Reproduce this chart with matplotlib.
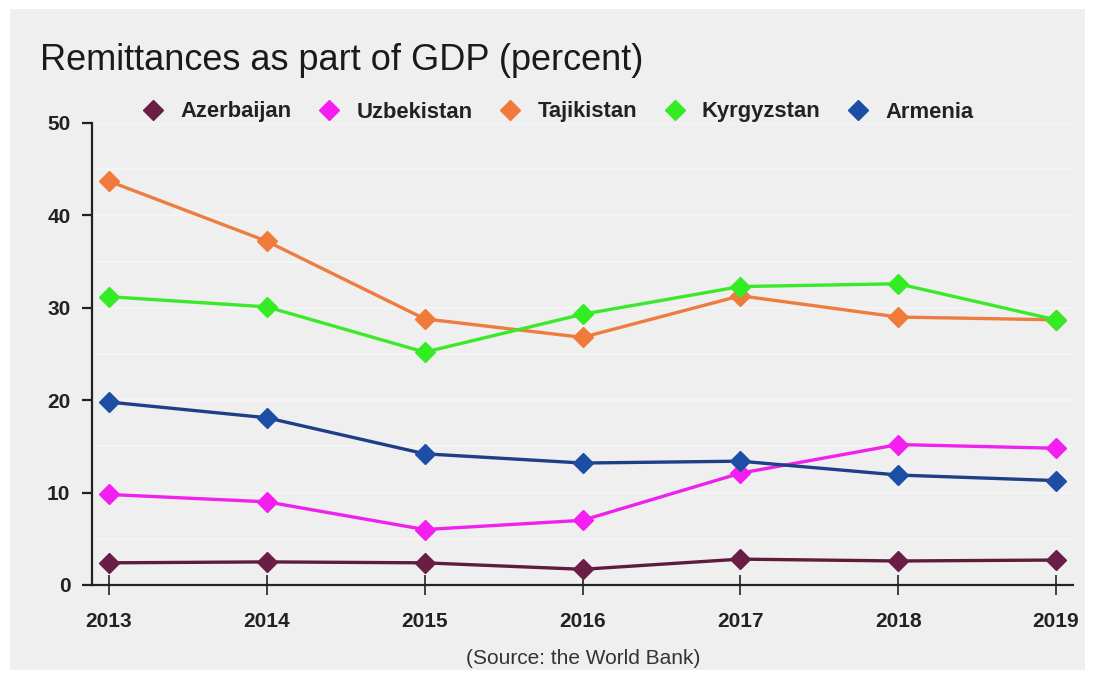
"""
Remittances as part of GDP (percent), 2013-2019.
"""
import matplotlib
import matplotlib.pyplot as plt
from matplotlib.lines import Line2D
from matplotlib.patches import Rectangle

matplotlib.use('agg')

years = [2013, 2014, 2015, 2016, 2017, 2018, 2019]
countries = ['Azerbaijan', 'Uzbekistan', 'Tajikistan', 'Kyrgyzstan', 'Armenia']
azerbaijan = [2.4, 2.5, 2.4, 1.7, 2.8, 2.6, 2.7]
uzbekistan = [9.8, 9.0, 6.0, 7.0, 12.1, 15.2, 14.8]
tajikistan = [43.7, 37.2, 28.8, 26.8, 31.3, 29.0, 28.7]
kyrgyzstan = [31.2, 30.1, 25.2, 29.3, 32.3, 32.6, 28.7]
armenia = [19.8, 18.1, 14.2, 13.2, 13.4, 11.9, 11.3]
yticks = [0, 10, 20, 30, 40, 50]

series = [azerbaijan, uzbekistan, tajikistan, kyrgyzstan, armenia]
marker_colors = ['#6a1d45', '#f51ef0', '#ef7a3a', '#34ec24', '#1d4ea6']
line_colors = ['#5e1c3c', '#ee22ec', '#ec7c40', '#3aea2a', '#1e3f86']

plt.rcParams['font.family'] = ['Liberation Sans', 'DejaVu Sans']
bg = '#efefef'

fig = plt.figure(figsize=(10.95, 6.79), dpi=100, facecolor='white')
fig.patches.append(Rectangle((10 / 1095, 9 / 679), 1075 / 1095, 661 / 679,
                             transform=fig.transFigure, facecolor=bg,
                             edgecolor='none', zorder=-10))
ax = fig.add_axes([92 / 1095, 94 / 679, 981 / 1095, 462 / 679])
ax.set_facecolor(bg)

for vals, mc, lc in zip(series, marker_colors, line_colors):
    ax.plot(years, vals, color=lc, linewidth=2.4, marker='D',
            markersize=10.5, markerfacecolor=mc, markeredgecolor=mc,
            zorder=3)

ax.set_xlim(2012.892, 2019.108)
ax.set_ylim(0, 50)
ax.set_xticks(years)
ax.set_xticklabels([str(y) for y in years])
ax.set_yticks(yticks)
ax.set_yticks([5, 15, 25, 35, 45], minor=True)
ax.grid(axis='y', which='both', color='#f6f6f6', linewidth=1.2, zorder=0)
ax.tick_params(axis='y', which='minor', length=0)

for side in ('top', 'right'):
    ax.spines[side].set_visible(False)
for side in ('left', 'bottom'):
    ax.spines[side].set_color('#222222')
    ax.spines[side].set_linewidth(1.6)

ax.tick_params(axis='y', which='major', direction='out', length=7.5,
               width=1.6, color='#222222', pad=8)
ax.tick_params(axis='x', direction='inout', length=15, width=1.2,
               color='#222222', pad=12)
for lbl in ax.get_xticklabels() + ax.get_yticklabels():
    lbl.set_fontweight('bold')
    lbl.set_fontsize(15)
    lbl.set_color('#222222')

fig.text(40 / 1095, 1 - 60 / 679, 'Remittances as part of GDP (percent)',
         fontsize=26, color='#1a1a1a', va='center', ha='left')

handles = [Line2D([], [], linestyle='none', marker='D', markersize=10.5,
                  markerfacecolor=c, markeredgecolor=c)
           for c in marker_colors]
leg = fig.legend(handles, countries, loc='center left', ncol=5,
                 bbox_to_anchor=(142 / 1095, 1 - 112 / 679), frameon=False,
                 borderpad=0, borderaxespad=0,
                 handlelength=1.0, handletextpad=0.74, columnspacing=1.22,
                 prop={'weight': 'bold', 'size': 15.8})
for t in leg.get_texts():
    t.set_color('#222222')

fig.text(583 / 1095, 1 - 659 / 679, '(Source: the World Bank)',
         fontsize=15, color='#333333', ha='center', va='center')

fig.savefig('out.png', dpi=100, facecolor='white')
